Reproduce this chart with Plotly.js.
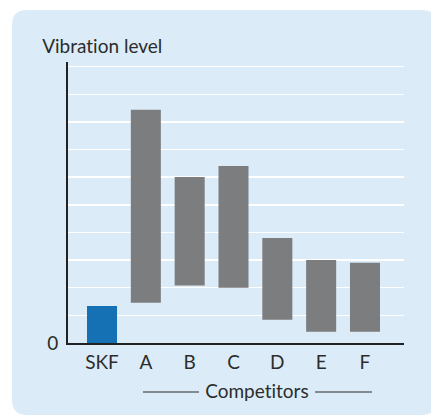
<!DOCTYPE html>
<html>
<head>
<meta charset="utf-8">
<script src="https://cdn.plot.ly/plotly-3.0.1.min.js"></script>
<style>
html,body{margin:0;padding:0;background:#fff;}
#chart{width:431px;height:416px;}
#chart text{font-variant-ligatures:none;font-feature-settings:"liga" 0,"clig" 0;}
</style>
</head>
<body>
<div id="chart"></div>
<script>
const categories = ["SKF", "A", "B", "C", "D", "E", "F"];
const lowValues  = [0, 1.46, 2.08, 2.0, 0.84, 0.41, 0.41];
const highValues = [1.34, 8.44, 6.01, 6.41, 3.80, 3.00, 2.90];
const barColors  = ["#1670b4", "#7c7d7f", "#7c7d7f", "#7c7d7f", "#7c7d7f", "#7c7d7f", "#7c7d7f"];
const yTickVals  = [0, 1, 2, 3, 4, 5, 6, 7, 8, 9, 10];
const yTickText  = ["0", "", "", "", "", "", "", "", "", "", ""];

const W = 431, H = 416;
const mL = 68, mR = 27, mT = 62, mB = 73;
const pw = W - mL - mR, ph = H - mT - mB;
const px = v => (v - mL) / pw;
const py = v => (H - mB - v) / ph;

// rounded panel path in paper coordinates
const L = 12, R = 437, T = 10, B = 415, r = 15;
const panelPath = [
  `M ${px(L + r)} ${py(T)}`,
  `L ${px(R - r)} ${py(T)}`,
  `Q ${px(R)} ${py(T)} ${px(R)} ${py(T + r)}`,
  `L ${px(R)} ${py(B - r)}`,
  `Q ${px(R)} ${py(B)} ${px(R - r)} ${py(B)}`,
  `L ${px(L + r)} ${py(B)}`,
  `Q ${px(L)} ${py(B)} ${px(L)} ${py(B - r)}`,
  `L ${px(L)} ${py(T + r)}`,
  `Q ${px(L)} ${py(T)} ${px(L + r)} ${py(T)}`,
  "Z"
].join(" ");

const xIdx = categories.map((c, i) => i);
const trace = {
  type: "bar",
  x: xIdx,
  base: lowValues,
  y: highValues.map((h, i) => h - lowValues[i]),
  width: 0.685,
  marker: { color: barColors, line: { width: 0 } },
  hoverinfo: "skip"
};

const font = { family: "Lato, 'Noto Sans', sans-serif", color: "#2c2c2c", size: 19 };

const layout = {
  width: W, height: H,
  margin: { l: mL, r: mR, t: mT, b: mB, pad: 0 },
  paper_bgcolor: "#ffffff",
  plot_bgcolor: "rgba(0,0,0,0)",
  showlegend: false,
  font: font,
  xaxis: {
    range: [-0.776, 6.89],
    tickvals: xIdx,
    ticktext: categories,
    showgrid: false,
    zeroline: false,
    showline: true,
    linecolor: "#222222",
    linewidth: 2,
    ticks: "",
    ticklabelstandoff: 1,
    tickfont: font,
    fixedrange: true
  },
  yaxis: {
    range: [0, 10.17],
    tickvals: yTickVals,
    ticktext: yTickText,
    showgrid: true,
    gridcolor: "#ffffff",
    gridwidth: 1.5,
    zeroline: false,
    showline: true,
    linecolor: "#222222",
    linewidth: 2,
    ticks: "",
    ticklabelstandoff: 4,
    tickfont: font,
    fixedrange: true
  },
  shapes: [
    { type: "path", xref: "paper", yref: "paper", path: panelPath,
      fillcolor: "#dbecf8", line: { width: 0 }, layer: "below" },
    { type: "line", xref: "paper", yref: "paper",
      x0: px(143), x1: px(199), y0: py(392), y1: py(392),
      line: { color: "#2a2a2a", width: 1 } },
    { type: "line", xref: "paper", yref: "paper",
      x0: px(315), x1: px(372), y0: py(392), y1: py(392),
      line: { color: "#2a2a2a", width: 1 } }
  ],
  annotations: [
    { text: "Vibration level", xref: "paper", yref: "paper",
      x: px(40), y: py(45), xanchor: "left", yanchor: "middle",
      showarrow: false, font: font },
    { text: "Competitors", xref: "paper", yref: "paper",
      x: px(256.5), y: py(390), xanchor: "center", yanchor: "middle",
      showarrow: false, font: font }
  ]
};

Plotly.newPlot("chart", [trace], layout, { staticPlot: true, displayModeBar: false });
</script>
</body>
</html>
